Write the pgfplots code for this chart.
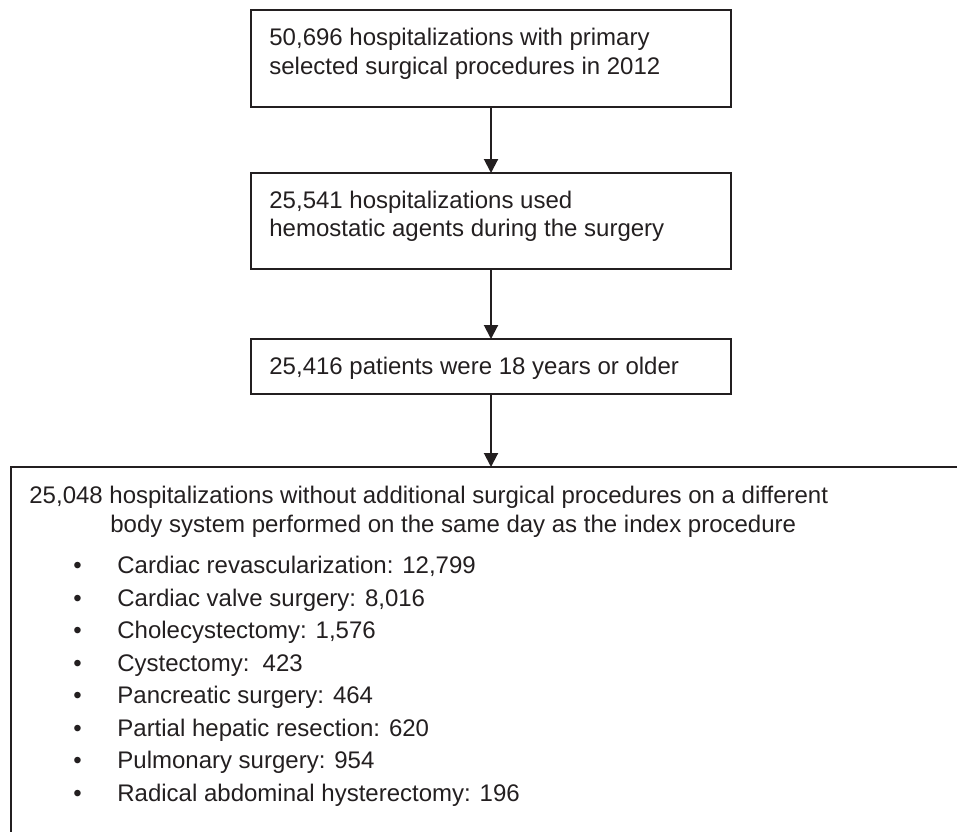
\documentclass[border=0pt]{standalone}
\usepackage{pgfplots}
\pgfplotsset{compat=1.18}
\usepackage{fontspec}
\setmainfont{Liberation Sans}
\usetikzlibrary{arrows.meta}
\definecolor{ink}{HTML}{231F20}
\tikzset{t/.style={font=\fontsize{12pt}{14.4pt}\selectfont, text=ink, inner sep=0pt, anchor=base west}}
\begin{document}
\begin{tikzpicture}
\begin{axis}[
  width=478.5pt, height=415.5pt, scale only axis,
  hide axis, xmin=0, xmax=957, ymin=0, ymax=831, y dir=reverse,
  clip=true,
]
% boxes
\addplot[ink, line width=1pt, line cap=rect, line join=miter] coordinates {(251,10) (731,10) (731,107) (251,107) (251,10)};
\addplot[ink, line width=1pt, line cap=rect, line join=miter] coordinates {(251,173) (731,173) (731,269) (251,269) (251,173)};
\addplot[ink, line width=1pt, line cap=rect, line join=miter] coordinates {(251,339) (731,339) (731,394) (251,394) (251,339)};
\addplot[ink, line width=1pt, line join=miter] coordinates {(11,900) (11,467) (1000,467)};
% arrows
\addplot[ink, line width=1pt, -{Triangle[width=7pt,length=7pt]}] coordinates {(491,107) (491,173)};
\addplot[ink, line width=1pt, -{Triangle[width=7pt,length=7pt]}] coordinates {(491,269) (491,339)};
\addplot[ink, line width=1pt, -{Triangle[width=7pt,length=7pt]}] coordinates {(491,394) (491,467)};
% texts
\node[t] at (axis cs:269,45) {50,696 hospitalizations with primary};
\node[t] at (axis cs:269,74) {selected surgical procedures in 2012};
\node[t] at (axis cs:269,208) {25,541 hospitalizations used};
\node[t] at (axis cs:269,236) {hemostatic agents during the surgery};
\node[t] at (axis cs:269,374) {25,416 patients were 18 years or older};
\node[t] at (axis cs:29,503) {25,048 hospitalizations without additional surgical procedures on a different};
\node[t] at (axis cs:110,532) {body system performed on the same day as the index procedure};
\node[t] at (axis cs:73,573) {•};
\node[t] at (axis cs:117,573) {Cardiac revascularization: 12,799};
\node[t] at (axis cs:73,606) {•};
\node[t] at (axis cs:117,606) {Cardiac valve surgery: 8,016};
\node[t] at (axis cs:73,638) {•};
\node[t] at (axis cs:117,638) {Cholecystectomy: 1,576};
\node[t] at (axis cs:73,671) {•};
\node[t] at (axis cs:117,671) {Cystectomy:\ \ 423};
\node[t] at (axis cs:73,703) {•};
\node[t] at (axis cs:117,703) {Pancreatic surgery: 464};
\node[t] at (axis cs:73,736) {•};
\node[t] at (axis cs:117,736) {Partial hepatic resection: 620};
\node[t] at (axis cs:73,768) {•};
\node[t] at (axis cs:117,768) {Pulmonary surgery: 954};
\node[t] at (axis cs:73,801) {•};
\node[t] at (axis cs:117,801) {Radical abdominal hysterectomy: 196};
\end{axis}
\pgfresetboundingbox
\path (current axis.south west) rectangle (current axis.north east);
\end{tikzpicture}
\end{document}
